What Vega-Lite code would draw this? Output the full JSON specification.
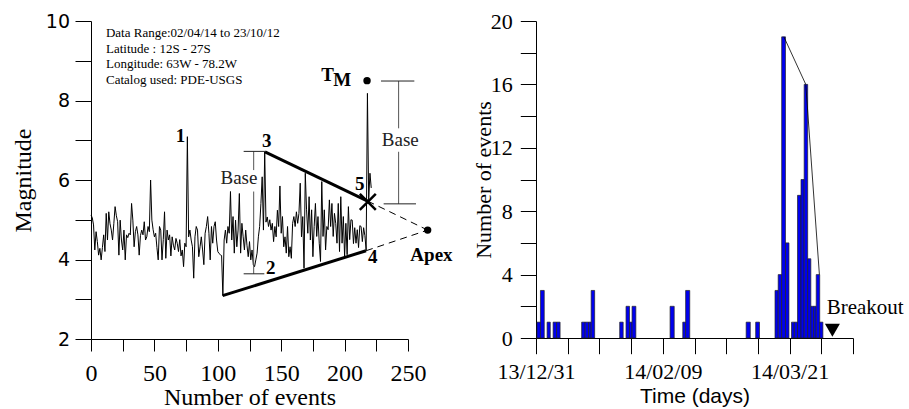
{
"$schema": "https://vega.github.io/schema/vega-lite/v6.json",
"padding": {"left": 11, "top": 10, "right": 0, "bottom": 0},
"background": "white",
"spacing": 19,
"config": {"view": {"stroke": null}, "axis": {"grid": false, "domainColor": "#000", "tickColor": "#000", "labelColor": "#000", "titleColor": "#000", "domainWidth": 1, "tickWidth": 1, "labelFlush": false, "labelOverlap": false}},
"hconcat": [
{
 "width": 317, "height": 318,
 "encoding": {
  "x": {"field": "x", "type": "quantitative", "scale": {"domain": [0, 250], "nice": false, "zero": false},
   "axis": {"title": "Number of events", "values": [0,25,50,75,100,125,150,175,200,225,250], "labelExpr": "datum.value % 50 === 0 ? datum.label : ''", "tickSize": 12, "labelPadding": 10, "labelFont": "Liberation Serif", "labelFontSize": 24, "titleFont": "Liberation Serif", "titleFontSize": 24, "titleFontWeight": "normal", "titlePadding": 0}},
  "y": {"field": "y", "type": "quantitative", "scale": {"domain": [2, 10], "nice": false, "zero": false},
   "axis": {"title": "Magnitude", "values": [2,3,4,5,6,7,8,9,10], "labelExpr": "datum.value % 2 === 0 ? datum.label : ''", "tickSize": 16, "labelPadding": 5.5, "labelFont": "DejaVu Sans", "labelFontSize": 19, "titleFont": "Liberation Serif", "titleFontSize": 24, "titleFontWeight": "normal", "titlePadding": 10}}
 },
 "layer": [
  {"data": {"values": [
   {"x":0,"y":5.12},{"x":1,"y":5.05},{"x":2,"y":4.87},{"x":3,"y":4.24},{"x":4,"y":4.7},{"x":5,"y":4.45},{"x":6,"y":4.11},{"x":7,"y":4.28},{"x":8,"y":3.99},{"x":9,"y":4.3},
   {"x":10,"y":4.62},{"x":11,"y":4.2},{"x":12,"y":5.16},{"x":13,"y":4.49},{"x":14,"y":5.2},{"x":15,"y":4.9},{"x":16,"y":4.74},{"x":17,"y":4.49},{"x":18,"y":4.9},{"x":19,"y":5.33},
   {"x":20,"y":5.1},{"x":21,"y":4.95},{"x":22,"y":4.11},{"x":23,"y":4.99},{"x":24,"y":4.49},{"x":25,"y":4.24},{"x":26,"y":4.74},{"x":27,"y":3.99},{"x":28,"y":4.62},{"x":29,"y":4.55},
   {"x":30,"y":4.66},{"x":31,"y":4.62},{"x":32,"y":5.41},{"x":33,"y":4.99},{"x":34,"y":4.32},{"x":35,"y":4.7},{"x":36,"y":4.83},{"x":37,"y":4.62},{"x":38,"y":4.11},{"x":39,"y":4.6},
   {"x":40,"y":4.74},{"x":41,"y":4.62},{"x":42,"y":4.95},{"x":43,"y":4.49},{"x":44,"y":4.57},{"x":45,"y":4.83},{"x":46,"y":4.7},{"x":47,"y":6.0},{"x":48,"y":4.99},{"x":49,"y":4.75},
   {"x":50,"y":4.57},{"x":51,"y":4.66},{"x":52,"y":4.3},{"x":53,"y":3.99},{"x":54,"y":4.83},{"x":55,"y":4.74},{"x":56,"y":3.99},{"x":57,"y":4.5},{"x":58,"y":5.2},{"x":59,"y":4.03},
   {"x":60,"y":4.74},{"x":61,"y":4.49},{"x":62,"y":4.62},{"x":63,"y":4.09},{"x":64,"y":4.57},{"x":65,"y":4.36},{"x":66,"y":4.24},{"x":67,"y":4.53},{"x":68,"y":4.41},{"x":69,"y":4.2},
   {"x":70,"y":4.5},{"x":71,"y":4.09},{"x":72,"y":4.24},{"x":73,"y":3.82},{"x":74,"y":4.41},{"x":75,"y":4.32},{"x":76,"y":7.09},{"x":77,"y":4.57},{"x":78,"y":4.74},{"x":79,"y":4.49},
   {"x":80,"y":4.32},{"x":81,"y":3.53},{"x":82,"y":4.57},{"x":83,"y":4.83},{"x":84,"y":4.74},{"x":85,"y":4.07},{"x":86,"y":4.32},{"x":87,"y":4.57},{"x":88,"y":4.24},{"x":89,"y":3.87},
   {"x":90,"y":4.66},{"x":91,"y":4.83},{"x":92,"y":5.08},{"x":93,"y":4.66},{"x":94,"y":3.99},{"x":95,"y":4.83},{"x":96,"y":4.41},{"x":97,"y":4.83},{"x":98,"y":4.95},{"x":99,"y":4.49},
   {"x":100,"y":4.2},{"x":101,"y":4.15},{"x":102,"y":4.12},{"x":103,"y":4.1},{"x":104,"y":3.09},{"x":105,"y":4.49},{"x":106,"y":4.74},{"x":107,"y":4.41},{"x":108,"y":4.83},{"x":109,"y":4.66},
   {"x":110,"y":5.71},{"x":111,"y":4.49},{"x":112,"y":5.08},{"x":113,"y":4.16},{"x":114,"y":4.99},{"x":115,"y":4.32},{"x":116,"y":4.74},{"x":117,"y":5.66},{"x":118,"y":4.16},{"x":119,"y":4.91},
   {"x":120,"y":4.57},{"x":121,"y":4.24},{"x":122,"y":4.74},{"x":123,"y":4.36},{"x":124,"y":4.07},{"x":125,"y":4.45},{"x":126,"y":3.99},{"x":127,"y":4.24},{"x":128,"y":3.87},{"x":129,"y":3.82},
   {"x":130,"y":3.99},{"x":131,"y":4.16},{"x":132,"y":4.57},{"x":133,"y":4.83},{"x":134,"y":5.41},{"x":135,"y":6.08},{"x":136,"y":4.74},{"x":137,"y":6.71},{"x":138,"y":4.94},{"x":139,"y":5.07},
   {"x":140,"y":4.83},{"x":141,"y":5.0},{"x":142,"y":4.74},{"x":143,"y":4.91},{"x":144,"y":4.45},{"x":145,"y":4.83},{"x":146,"y":4.57},{"x":147,"y":5.24},{"x":148,"y":4.83},{"x":149,"y":5.85},
   {"x":150,"y":4.66},{"x":151,"y":5.08},{"x":152,"y":4.32},{"x":153,"y":4.57},{"x":154,"y":4.16},{"x":155,"y":4.83},{"x":156,"y":4.07},{"x":157,"y":4.32},{"x":158,"y":4.03},{"x":159,"y":4.91},
   {"x":160,"y":5.08},{"x":161,"y":4.83},{"x":162,"y":5.2},{"x":163,"y":4.91},{"x":164,"y":5.16},{"x":165,"y":5.92},{"x":166,"y":4.57},{"x":167,"y":5.08},{"x":168,"y":3.78},{"x":169,"y":6.17},
   {"x":170,"y":5.25},{"x":171,"y":4.66},{"x":172,"y":5.58},{"x":173,"y":4.49},{"x":174,"y":5.25},{"x":175,"y":4.07},{"x":176,"y":4.83},{"x":177,"y":5.41},{"x":178,"y":4.58},{"x":179,"y":5.08},
   {"x":180,"y":4.41},{"x":181,"y":3.95},{"x":182,"y":5.96},{"x":183,"y":4.58},{"x":184,"y":5.25},{"x":185,"y":4.24},{"x":186,"y":4.83},{"x":187,"y":4.75},{"x":188,"y":5.5},{"x":189,"y":4.83},
   {"x":190,"y":5.41},{"x":191,"y":4.58},{"x":192,"y":5.16},{"x":193,"y":4.91},{"x":194,"y":4.41},{"x":195,"y":5.41},{"x":196,"y":4.2},{"x":197,"y":5.58},{"x":198,"y":4.41},{"x":199,"y":5.08},
   {"x":200,"y":4.07},{"x":201,"y":4.91},{"x":202,"y":4.12},{"x":203,"y":5.33},{"x":204,"y":4.5},{"x":205,"y":5.0},{"x":206,"y":4.99},{"x":207,"y":4.4},{"x":208,"y":4.8},{"x":209,"y":4.41},
   {"x":210,"y":4.75},{"x":211,"y":4.3},{"x":212,"y":4.85},{"x":213,"y":4.83},{"x":214,"y":4.45},{"x":215,"y":4.8},{"x":216,"y":4.6},{"x":217,"y":4.24},{"x":218,"y":8.18},{"x":219,"y":5.5},
   {"x":220,"y":6.17},{"x":221,"y":5.8}
  ]}, "mark": {"type": "line", "color": "#000", "strokeWidth": 1}},
  {"data": {"values": [
   {"x":103.8,"y":3.09,"x2":216.9,"y2":4.22},
   {"x":137.2,"y":6.71,"x2":218.2,"y2":5.47}
  ]}, "mark": {"type": "rule", "color": "#000", "strokeWidth": 3}, "encoding": {"x2": {"field": "x2"}, "y2": {"field": "y2"}}},
  {"data": {"values": [
   {"x":218.2,"y":5.47,"x2":265.5,"y2":4.74},
   {"x":216.9,"y":4.22,"x2":265.5,"y2":4.74}
  ]}, "mark": {"type": "rule", "color": "#000", "strokeWidth": 1, "strokeDash": [7, 5]}, "encoding": {"x2": {"field": "x2"}, "y2": {"field": "y2"}}},
  {"data": {"values": [
   {"x":128.3,"y":6.72,"x2":128.3,"y2":6.25},
   {"x":128.3,"y":5.71,"x2":128.3,"y2":3.64},
   {"x":242.6,"y":8.49,"x2":242.6,"y2":7.3},
   {"x":242.6,"y":6.71,"x2":242.6,"y2":5.4}
  ]}, "mark": {"type": "rule", "color": "#555", "strokeWidth": 1}, "encoding": {"x2": {"field": "x2"}, "y2": {"field": "y2"}}},
  {"data": {"values": [
   {"x":120.4,"y":6.72,"x2":137.2,"y2":6.72},
   {"x":120.4,"y":3.64,"x2":136.7,"y2":3.64},
   {"x":228.7,"y":8.49,"x2":255,"y2":8.49},
   {"x":230.8,"y":5.4,"x2":256.3,"y2":5.4}
  ]}, "mark": {"type": "rule", "color": "#222", "strokeWidth": 1}, "encoding": {"x2": {"field": "x2"}, "y2": {"field": "y2"}}},
  {"data": {"values": [{"x":217.7,"y":8.5},{"x":265.5,"y":4.74}]}, "mark": {"type": "point", "shape": "circle", "filled": true, "color": "#000", "opacity": 1, "size": 55}},
  {"data": {"values": [{"x":218.3,"y":5.45}]}, "mark": {"type": "point", "shape": "M-1,-1L1,1M-1,1L1,-1", "filled": false, "stroke": "#000", "strokeWidth": 2.5, "opacity": 1, "size": 256}},
  {"data": {"values": [
   {"x":11.8,"y":9.69,"t":"Data Range:02/04/14 to 23/10/12"},
   {"x":11.8,"y":9.29,"t":"Latitude : 12S - 27S"},
   {"x":11.8,"y":8.91,"t":"Longitude: 63W - 78.2W"},
   {"x":11.8,"y":8.52,"t":"Catalog used: PDE-USGS"}
  ]}, "mark": {"type": "text", "align": "left", "baseline": "middle", "font": "Liberation Serif", "fontSize": 13, "color": "#000"}, "encoding": {"text": {"field": "t"}}},
  {"data": {"values": [
   {"x":70.6,"y":7.11,"t":"1"},
   {"x":141.7,"y":3.79,"t":"2"},
   {"x":138.6,"y":6.99,"t":"3"},
   {"x":222.2,"y":4.06,"t":"4"},
   {"x":211.9,"y":5.9,"t":"5"},
   {"x":186.6,"y":8.63,"t":"T"},
   {"x":198.2,"y":8.52,"t":"M"},
   {"x":268.5,"y":4.11,"t":"Apex"}
  ]}, "mark": {"type": "text", "align": "center", "baseline": "middle", "font": "Liberation Serif", "fontSize": 19, "fontWeight": "bold", "color": "#000"}, "encoding": {"text": {"field": "t"}}},
  {"data": {"values": [
   {"x":116.7,"y":6.06,"t":"Base"},
   {"x":243.9,"y":7.0,"t":"Base"}
  ]}, "mark": {"type": "text", "align": "center", "baseline": "middle", "font": "Liberation Serif", "fontSize": 19, "color": "#222"}, "encoding": {"text": {"field": "t"}}}
 ]
},
{
 "width": 317, "height": 317,
 "encoding": {
  "x": {"field": "x", "type": "quantitative", "scale": {"domain": [0, 100], "nice": false, "zero": false},
   "axis": {"title": "Time (days)", "values": [0,10,20,30,40,50,60,70,80,90,100], "labelExpr": "datum.value === 0 ? '13/12/31' : datum.value === 40 ? '14/02/09' : datum.value === 80 ? '14/03/21' : ''", "tickSize": 15.7, "labelPadding": 8, "labelFont": "Liberation Serif", "labelFontSize": 22, "titleFont": "Liberation Sans", "titleFontSize": 21, "titleFontWeight": "normal", "titlePadding": 3}},
  "y": {"field": "y", "type": "quantitative", "scale": {"domain": [0, 20], "nice": false, "zero": false},
   "axis": {"title": "Number of events", "values": [0,2,4,6,8,10,12,14,16,18,20], "labelExpr": "datum.value % 4 === 0 ? datum.label : ''", "tickSize": 15.7, "labelPadding": 8, "labelFont": "Liberation Serif", "labelFontSize": 22, "titleFont": "Liberation Serif", "titleFontSize": 22, "titleFontWeight": "normal", "titlePadding": -5}}
 },
 "layer": [
  {"data": {"values": [
   {"x":0.3,"x2":1.4,"y":1},{"x":1.4,"x2":2.6,"y":3},{"x":3.5,"x2":4.5,"y":1},{"x":5.4,"x2":6.5,"y":1},{"x":6.5,"x2":7.6,"y":1},
   {"x":14.4,"x2":15.5,"y":1},{"x":15.5,"x2":16.6,"y":1},{"x":16.6,"x2":17.4,"y":1},{"x":17.4,"x2":18.5,"y":3},
   {"x":26.4,"x2":27.5,"y":1},{"x":28.4,"x2":29.5,"y":2},{"x":29.5,"x2":30.3,"y":1},{"x":30.3,"x2":31.5,"y":2},
   {"x":42.3,"x2":43.6,"y":2},{"x":46.3,"x2":47.2,"y":1},{"x":47.2,"x2":48.5,"y":3},
   {"x":66.3,"x2":67.6,"y":1},{"x":69.3,"x2":70.5,"y":1},
   {"x":75.4,"x2":76.4,"y":3},{"x":76.4,"x2":77.5,"y":4},{"x":77.5,"x2":78.7,"y":19},{"x":78.7,"x2":79.8,"y":6},
   {"x":80.6,"x2":81.5,"y":1},{"x":81.5,"x2":82.5,"y":1},{"x":82.5,"x2":83.6,"y":9},{"x":83.6,"x2":84.6,"y":10},{"x":84.6,"x2":85.7,"y":16},{"x":85.7,"x2":86.7,"y":5},
   {"x":86.7,"x2":87.6,"y":2},{"x":87.6,"x2":88.4,"y":2},{"x":88.4,"x2":89.5,"y":4},{"x":89.5,"x2":90.5,"y":1}
  ]}, "mark": {"type": "bar", "fill": "#0000ee", "stroke": "#222", "strokeWidth": 0.7}, "encoding": {"x2": {"field": "x2"}, "y2": {"datum": 0}}},
  {"data": {"values": [{"x":78.2,"y":19},{"x":85.1,"y":16},{"x":89.4,"y":4}]}, "mark": {"type": "line", "color": "#000", "strokeWidth": 0.8}},
  {"data": {"values": [{"x":93.5,"y":0.49}]}, "mark": {"type": "point", "shape": "triangle-down", "filled": true, "color": "#000", "opacity": 1, "size": 225}},
  {"data": {"values": [{"x":91.7,"y":1.87,"t":"Breakout"}]}, "mark": {"type": "text", "align": "left", "baseline": "middle", "font": "Liberation Serif", "fontSize": 21, "color": "#000"}, "encoding": {"text": {"field": "t"}}}
 ]
}
]
}
